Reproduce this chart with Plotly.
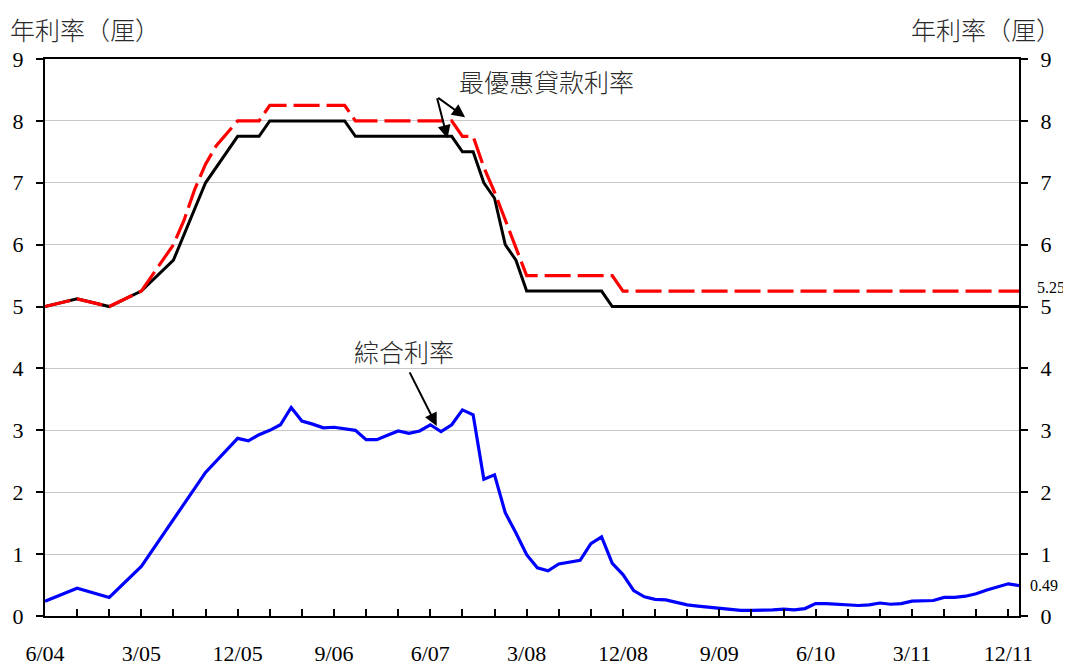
import plotly.graph_objects as go


def month_seq(start, end):
    y, m = map(int, start.split("-"))
    ey, em = map(int, end.split("-"))
    out = []
    while (y, m) <= (ey, em):
        out.append(f"{y:04d}-{m:02d}")
        m += 1
        if m > 12:
            m = 1
            y += 1
    return out


def idx(s):
    y, m = map(int, s.split("-"))
    return (y - 2004) * 12 + (m - 6)


# ---------------- data ----------------
prime_a_months = ["2004-06", "2004-09", "2004-12", "2005-03", "2005-06", "2005-09",
                  "2005-12", "2006-02", "2006-03", "2006-10", "2006-11", "2007-08",
                  "2007-09", "2007-10", "2007-11", "2007-12", "2008-01", "2008-02",
                  "2008-03", "2008-10", "2008-11", "2012-01"]
prime_a_values = [5.0, 5.125, 5.0, 5.25, 5.75, 7.0,
                  7.75, 7.75, 8.0, 8.0, 7.75, 7.75,
                  7.5, 7.5, 7.0, 6.75, 6.0, 5.75,
                  5.25, 5.25, 5.0, 5.0]

prime_b_months = ["2004-06", "2004-09", "2004-12", "2005-03", "2005-06", "2005-07",
                  "2005-08", "2005-09", "2005-10", "2005-11", "2005-12", "2006-02",
                  "2006-03", "2006-10", "2006-11", "2007-08", "2007-09", "2007-10",
                  "2007-11", "2007-12", "2008-01", "2008-02", "2008-03", "2008-11",
                  "2008-12", "2012-01"]
prime_b_values = [5.0, 5.125, 5.0, 5.25, 6.0, 6.4,
                  6.9, 7.3, 7.6, 7.8, 8.0, 8.0,
                  8.25, 8.25, 8.0, 8.0, 7.75, 7.75,
                  7.25, 6.85, 6.4, 5.95, 5.5, 5.5,
                  5.25, 5.25]

composite_months = ["2004-06", "2004-09", "2004-12", "2005-03", "2005-09"] + month_seq("2005-12", "2012-01")
composite_values = [0.24, 0.45, 0.30, 0.80, 2.32,
                    2.87, 2.83, 2.93, 3.00, 3.09, 3.37, 3.15, 3.10, 3.04, 3.05,
                    3.03, 3.00, 2.85, 2.85, 2.92, 2.99, 2.95, 2.99, 3.09, 2.98,
                    3.09, 3.33, 3.25, 2.21, 2.28, 1.67, 1.34, 0.99, 0.78, 0.73,
                    0.84, 0.87, 0.90, 1.17, 1.28, 0.85, 0.67, 0.41, 0.31, 0.27,
                    0.26, 0.22, 0.18, 0.16, 0.14, 0.12, 0.11, 0.09, 0.09, 0.09,
                    0.10, 0.11, 0.10, 0.12, 0.20, 0.20, 0.19, 0.17, 0.17, 0.18,
                    0.21, 0.19, 0.20, 0.24, 0.25, 0.25, 0.30, 0.30, 0.32, 0.36,
                    0.42, 0.47, 0.52, 0.49]

tick_months = month_seq("2004-06", "2012-01")[::3]
labelled_every = 3  # label every third quarterly tick (every 9 months)

y_title = "年利率（厘）"
prime_label = "最優惠貸款利率"
composite_label = "綜合利率"
last_prime_label = "5.25"
last_comp_label = "0.49"

# ---------------- figure ----------------
CJK = "Noto Sans CJK TC"
SERIF = "Liberation Serif"
TEXT_FONT = dict(family=CJK, size=25, color="#2a2a2a", weight=300)

tickvals = [idx(m) for m in tick_months]
ticktext = []
for i, m in enumerate(tick_months):
    y, mo = m.split("-")
    ticktext.append(f"{int(mo)}/{y[2:]}" if i % labelled_every == 0 else "")

fig = go.Figure()
fig.add_trace(go.Scatter(x=[idx(m) for m in prime_a_months], y=prime_a_values,
                         mode="lines", line=dict(color="black", width=3),
                         showlegend=False, hoverinfo="skip"))
fig.add_trace(go.Scatter(x=[idx(m) for m in prime_b_months], y=prime_b_values,
                         mode="lines", line=dict(color="#ff0000", width=3.2, dash="26px,7px"),
                         showlegend=False, hoverinfo="skip"))
fig.add_trace(go.Scatter(x=[idx(m) for m in composite_months], y=composite_values,
                         mode="lines", line=dict(color="#0000ff", width=3.2),
                         showlegend=False, hoverinfo="skip"))
# invisible helper so the right axis is drawn
fig.add_trace(go.Scatter(x=[0], y=[0], yaxis="y2", mode="markers",
                         marker=dict(opacity=0), showlegend=False, hoverinfo="skip"))

x_end = idx("2012-01")
ann = []
ann.append(dict(text=y_title, xref="paper", yref="paper", x=-0.038, y=1.089,
                xanchor="left", yanchor="top", showarrow=False, font=TEXT_FONT))
ann.append(dict(text=y_title, xref="paper", yref="paper", x=1.045, y=1.089,
                xanchor="right", yanchor="top", showarrow=False, font=TEXT_FONT))
ann.append(dict(text=prime_label, x=46.9, y=8.64, xanchor="center", yanchor="middle",
                showarrow=False, font=TEXT_FONT))
ann.append(dict(text=composite_label, x=33.5, y=4.29, xanchor="center", yanchor="middle",
                showarrow=False, font=TEXT_FONT))
for hx, hy in [(39.25, 8.06), (37.6, 7.72)]:
    ann.append(dict(text="", x=hx, y=hy, ax=36.6, ay=8.39, axref="x", ayref="y",
                    showarrow=True, arrowhead=2, arrowsize=1.3, arrowwidth=2,
                    arrowcolor="black", standoff=0))
ann.append(dict(text="", x=36.6, y=3.07, ax=34.0, ay=3.96, axref="x", ayref="y",
                showarrow=True, arrowhead=2, arrowsize=1.3, arrowwidth=2,
                arrowcolor="black", standoff=0))
ann.append(dict(text=last_prime_label, x=x_end, y=prime_b_values[-1], xanchor="left",
                yanchor="middle", xshift=16, yshift=4, showarrow=False,
                font=dict(family=SERIF, size=16, color="black")))
ann.append(dict(text=last_comp_label, x=x_end, y=composite_values[-1], xanchor="left",
                yanchor="middle", xshift=9, yshift=0, showarrow=False,
                font=dict(family=SERIF, size=16, color="black")))

# The page body has an 8px margin, so the figure is drawn 8px smaller and offset.
fig.update_layout(
    width=1063, height=657,
    margin=dict(l=37, r=52, t=51, b=49, autoexpand=False),
    paper_bgcolor="white", plot_bgcolor="white",
    showlegend=False,
    annotations=ann,
    xaxis=dict(range=[0, x_end], tickmode="array", tickvals=tickvals, ticktext=ticktext,
               ticks="inside", ticklen=7, tickwidth=1.5, tickcolor="black",
               showline=True, linecolor="black", linewidth=2, mirror=True,
               showgrid=False, zeroline=False, automargin=False,
               tickfont=dict(family=SERIF, size=22, color="black"),
               ticklabelstandoff=17),
    yaxis=dict(range=[0, 9], dtick=1, tick0=0, ticks="outside", ticklen=7, tickwidth=1.5,
               tickcolor="black", showline=True, linecolor="black", linewidth=2,
               showgrid=True, gridcolor="#c8c8c8", gridwidth=1.2, zeroline=False,
               automargin=False,
               tickfont=dict(family=SERIF, size=22, color="black"),
               ticklabelstandoff=8),
    yaxis2=dict(range=[0, 9], dtick=1, tick0=0, overlaying="y", side="right",
                ticks="outside", ticklen=7, tickwidth=1.5, tickcolor="black",
                showline=True, linecolor="black", linewidth=2,
                showgrid=False, zeroline=False, automargin=False,
                tickfont=dict(family=SERIF, size=22, color="black"),
                ticklabelstandoff=8),
)

fig.write_html("out.html")
